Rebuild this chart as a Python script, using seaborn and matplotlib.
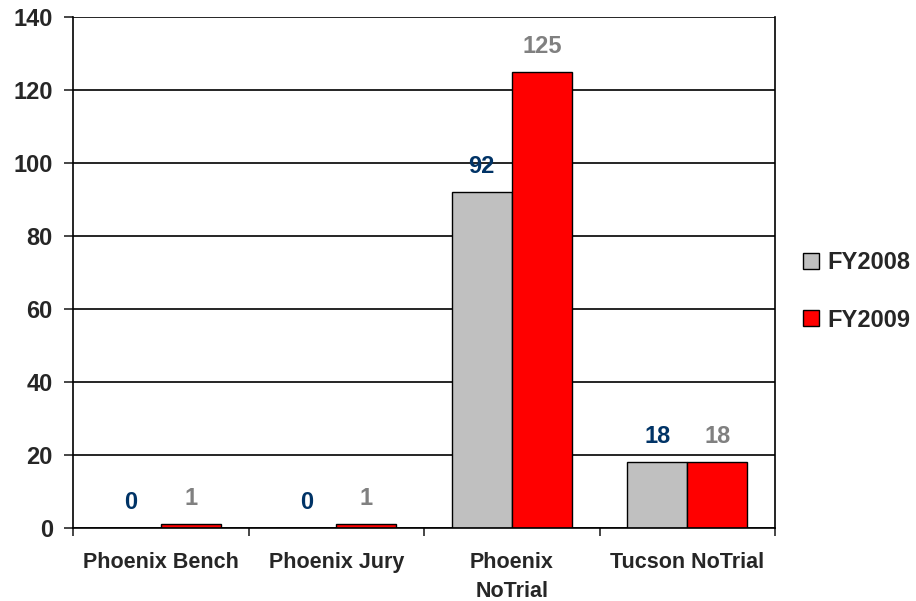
import matplotlib
matplotlib.use("Agg")
import matplotlib.pyplot as plt
import seaborn as sns
import pandas as pd

categories = ["Phoenix Bench", "Phoenix Jury", "Phoenix\nNoTrial", "Tucson NoTrial"]
fy2008 = [0, 0, 92, 18]
fy2009 = [1, 1, 125, 18]
series = ["FY2008", "FY2009"]
bar_colors = {"FY2008": "#c0c0c0", "FY2009": "#ff0000"}
label_colors = {"FY2008": "#003366", "FY2009": "#808080"}

df = pd.DataFrame({
    "category": categories * 2,
    "value": fy2008 + fy2009,
    "series": [series[0]] * len(categories) + [series[1]] * len(categories),
})

sns.set_style("white")
plt.rcParams["font.family"] = ["Liberation Sans", "DejaVu Sans"]
plt.rcParams["font.weight"] = "bold"

fig = plt.figure(figsize=(9.16, 6.01), dpi=100)
ax = fig.add_axes([73 / 916, 1 - 528 / 601, (775 - 73) / 916, (528 - 17) / 601])

sns.barplot(data=df, x="category", y="value", hue="series", order=categories,
            hue_order=series, palette=bar_colors, saturation=1, width=0.684,
            edgecolor="black", linewidth=1.0, ax=ax, legend=True)

ax.set_ylim(0, 140)
ax.set_xlim(-0.5, len(categories) - 0.5)
ax.set_yticks(range(0, 141, 20))
ax.yaxis.grid(True, color="black", linewidth=1.2)
ax.set_axisbelow(True)
ax.set_xlabel("")
ax.set_ylabel("")

for side in ["left", "bottom", "right"]:
    ax.spines[side].set_visible(True)
    ax.spines[side].set_color("black")
    ax.spines[side].set_linewidth(1.2)
ax.spines["top"].set_visible(False)

ax.tick_params(axis="y", which="major", direction="out", length=6.5, width=1.2,
               labelsize=17, left=True, pad=8)
ax.set_xticks(range(len(categories)))
ax.set_xticklabels(categories, fontsize=15.5, fontweight="bold", linespacing=1.55)
ax.tick_params(axis="x", which="major", length=0, pad=17)
ax.set_xticks([i - 0.5 for i in range(len(categories) + 1)], minor=True)
ax.tick_params(axis="x", which="minor", direction="out", length=6, width=1.2, bottom=True)
for lab in ax.get_yticklabels():
    lab.set_fontweight("bold")
for lab in ax.get_xticklabels():
    lab.set_verticalalignment("top")

for container, name in zip(ax.containers, series):
    ax.bar_label(container, labels=[f"{v:g}" for v in container.datavalues],
                 padding=10, color=label_colors[name], fontsize=17,
                 fontweight="bold")

handles, labels = ax.get_legend_handles_labels()
ax.legend(handles, labels, loc="center left", bbox_to_anchor=(1.027, 0.463),
          frameon=False, handlelength=0.68, handleheight=0.68,
          handletextpad=0.35, labelspacing=1.45, borderaxespad=0,
          prop={"weight": "bold", "size": 17})

fig.savefig("out.png", dpi=100)
